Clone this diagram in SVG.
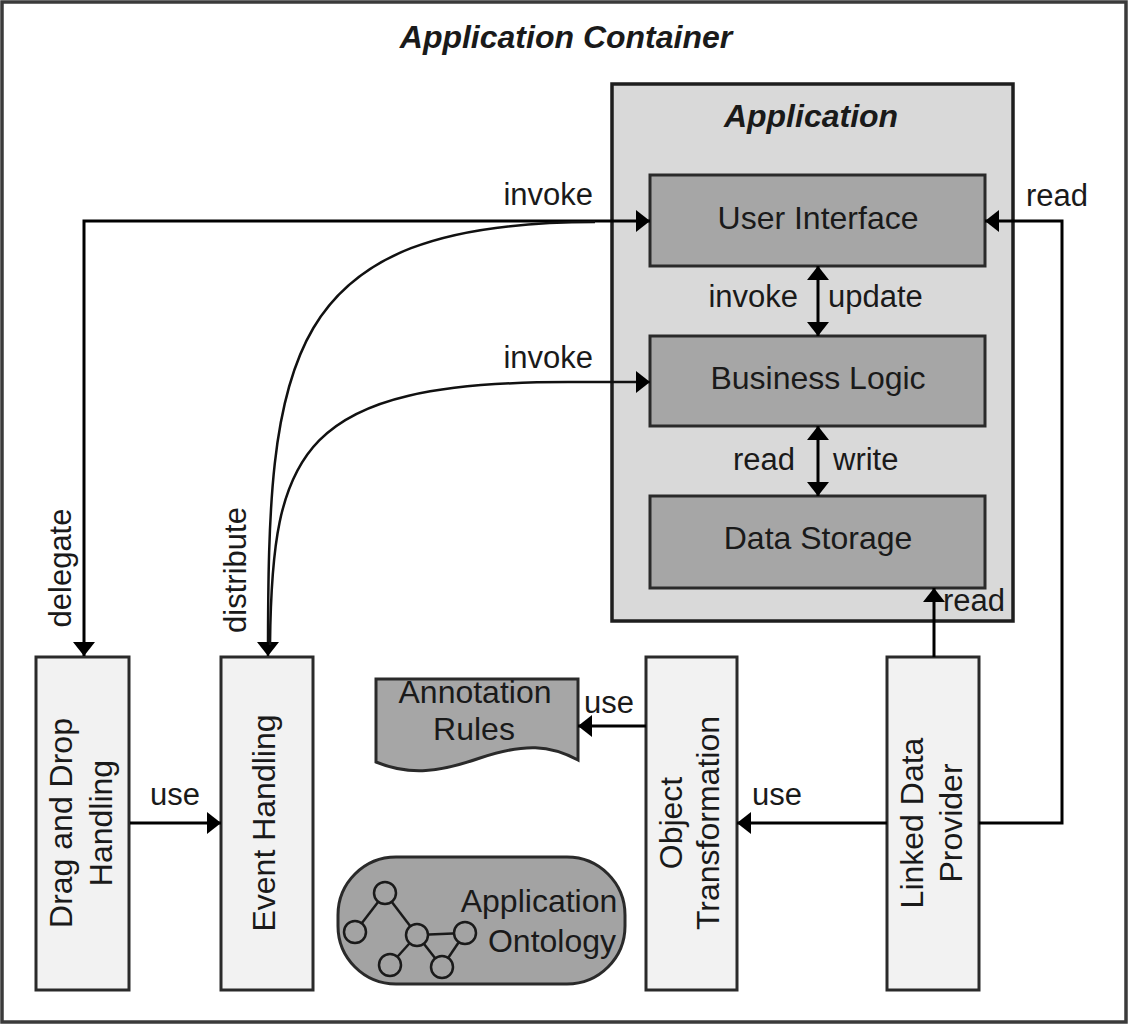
<svg xmlns="http://www.w3.org/2000/svg" width="1128" height="1024" viewBox="0 0 1128 1024">
  <style>
    text { font-family: "Liberation Sans", Arial, sans-serif; fill: #1a1a1a; }
    .title { font-size: 32px; font-weight: bold; font-style: italic; text-anchor: middle; }
    .nt { font-size: 32px; text-anchor: middle; }
    .lbl { font-size: 31px; }
    .box { stroke: #2a2a2a; stroke-width: 3; }
    .inner { fill: #a6a6a6; }
    .comp { fill: #f2f2f2; }
    .conn { fill: none; stroke: #000; stroke-width: 3; }
    .thin { fill: none; stroke: #111; stroke-width: 2.5; }
  </style>
  <defs>
    <marker id="arr" viewBox="0 0 14 22" refX="14" refY="11" markerWidth="14" markerHeight="22" markerUnits="userSpaceOnUse" orient="auto-start-reverse">
      <path d="M0,0 L14,11 L0,22 Z" fill="#000"/>
    </marker>
  </defs>

  <rect width="1128" height="1024" fill="#fff"/>

  <g id="application-container">
    <rect x="2" y="2" width="1124" height="1020" fill="#fff" stroke="#3a3a3a" stroke-width="3.5"/>
    <text class="title" x="566" y="48">Application Container</text>
  </g>

  <g id="application">
    <rect x="612" y="84" width="401" height="537" fill="#d9d9d9" stroke="#1e1e1e" stroke-width="3.5"/>
    <text class="title" x="811" y="127">Application</text>
  </g>

  <g id="user-interface">
    <rect class="box inner" x="650" y="175" width="335" height="91"/>
    <text class="nt" x="818" y="229">User Interface</text>
  </g>
  <g id="business-logic">
    <rect class="box inner" x="650" y="336" width="335" height="90"/>
    <text class="nt" x="818" y="389">Business Logic</text>
  </g>
  <g id="data-storage">
    <rect class="box inner" x="650" y="496" width="335" height="92"/>
    <text class="nt" x="818" y="549">Data Storage</text>
  </g>

  <g id="drag-and-drop">
    <rect class="box comp" x="36" y="657" width="93" height="333"/>
    <g transform="translate(83,823) rotate(-90)">
      <text class="nt" x="0" y="-11">Drag and Drop</text>
      <text class="nt" x="0" y="29">Handling</text>
    </g>
  </g>
  <g id="event-handling">
    <rect class="box comp" x="221" y="657" width="92" height="333"/>
    <text class="nt" transform="translate(267,823) rotate(-90)" x="0" y="8">Event Handling</text>
  </g>
  <g id="object-transformation">
    <rect class="box comp" x="646" y="657" width="91" height="333"/>
    <g transform="translate(691,823) rotate(-90)">
      <text class="nt" x="0" y="-9">Object</text>
      <text class="nt" x="0" y="28">Transformation</text>
    </g>
  </g>
  <g id="linked-data-provider">
    <rect class="box comp" x="887" y="657" width="92" height="333"/>
    <g transform="translate(933,823) rotate(-90)">
      <text class="nt" x="0" y="-10">Linked Data</text>
      <text class="nt" x="0" y="29">Provider</text>
    </g>
  </g>

  <g id="annotation-rules">
    <path class="box" fill="#a6a6a6" d="M376,679 L578,679 L578,760 C550,745 525,743 480,758 C440,772 410,776 376,762 Z"/>
    <text class="nt" x="475" y="703">Annotation</text>
    <text class="nt" x="474" y="740">Rules</text>
  </g>

  <g id="application-ontology">
    <rect class="box" fill="#a3a3a3" x="338" y="857" width="287" height="127" rx="58" ry="58"/>
    <g stroke="#1a1a1a" stroke-width="2.5" fill="none">
      <line x1="385" y1="893" x2="355" y2="932"/>
      <line x1="385" y1="893" x2="417" y2="935"/>
      <line x1="417" y1="935" x2="465" y2="933"/>
      <line x1="417" y1="935" x2="390" y2="965"/>
      <line x1="417" y1="935" x2="442" y2="967"/>
      <line x1="465" y1="933" x2="442" y2="967"/>
    </g>
    <g stroke="#1a1a1a" stroke-width="2.5" fill="#a3a3a3">
      <circle cx="385" cy="893" r="11"/>
      <circle cx="355" cy="932" r="11"/>
      <circle cx="417" cy="935" r="11"/>
      <circle cx="465" cy="933" r="11"/>
      <circle cx="390" cy="965" r="11"/>
      <circle cx="442" cy="967" r="11"/>
    </g>
    <text class="nt" x="539" y="912">Application</text>
    <text class="nt" x="552" y="952">Ontology</text>
  </g>

  <g id="connectors">
    <path class="conn" d="M650,221 H84 V656" marker-start="url(#arr)" marker-end="url(#arr)"/>
    <path class="thin" d="M595,222 C280,222 268,360 268,656" marker-end="url(#arr)"/>
    <path class="thin" d="M650,382 H568 C300,382 272,450 270,645" marker-start="url(#arr)"/>
    <path class="conn" d="M818,266 V336" marker-start="url(#arr)" marker-end="url(#arr)"/>
    <path class="conn" d="M818,426 V496" marker-start="url(#arr)" marker-end="url(#arr)"/>
    <path class="conn" d="M130,823 H221" marker-end="url(#arr)"/>
    <path class="conn" d="M646,726 H578" marker-end="url(#arr)"/>
    <path class="conn" d="M887,823 H737" marker-end="url(#arr)"/>
    <path class="conn" d="M979,823 H1062 V221 H985" marker-end="url(#arr)"/>
    <path class="conn" d="M934,657 V588" marker-end="url(#arr)"/>

    <text class="lbl" x="593" y="205" text-anchor="end">invoke</text>
    <text class="lbl" x="593" y="368" text-anchor="end">invoke</text>
    <text class="lbl" x="1026" y="206">read</text>
    <text class="lbl" x="798" y="307" text-anchor="end">invoke</text>
    <text class="lbl" x="828" y="307">update</text>
    <text class="lbl" x="795" y="470" text-anchor="end">read</text>
    <text class="lbl" x="833" y="470">write</text>
    <text class="lbl" x="943" y="611">read</text>
    <text class="lbl" x="175" y="805" text-anchor="middle">use</text>
    <text class="lbl" x="584" y="713">use</text>
    <text class="lbl" x="752" y="805">use</text>
    <text class="lbl" text-anchor="middle" transform="translate(71,568) rotate(-90)">delegate</text>
    <text class="lbl" text-anchor="middle" transform="translate(246,570) rotate(-90)">distribute</text>
  </g>
</svg>
